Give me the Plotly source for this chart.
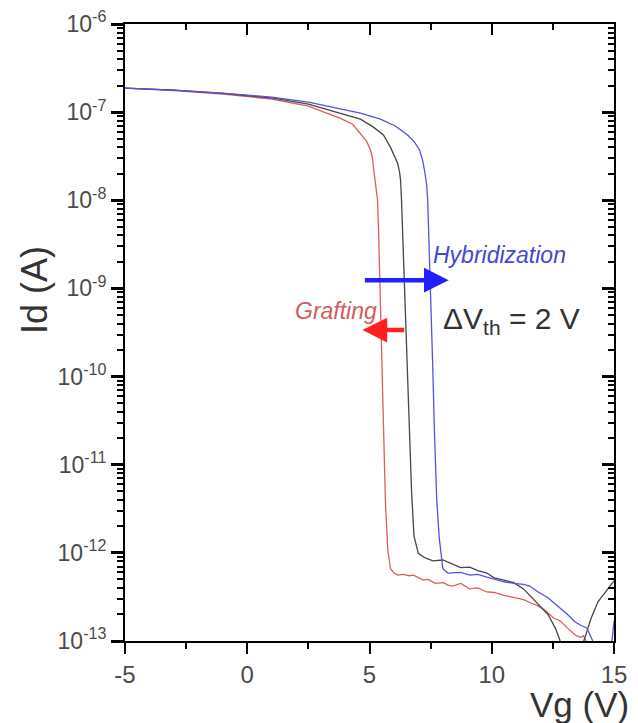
import plotly.graph_objects as go

# ---- data (Vg in V, Id in A) ----
vg_ref = [-5, -3, -1, 1, 2.5, 3.81, 4.63, 5.16, 5.57, 5.86, 6.02, 6.15, 6.23, 6.27, 6.31, 6.35,
          6.42, 6.52, 6.62, 6.72, 6.82,
          7.0, 7.3, 7.6, 8.0, 8.4, 8.73, 9.1, 9.43, 9.8, 10.1, 10.5, 10.9, 11.3, 11.7, 12.0,
          12.3, 12.6, 12.8, 12.9, 13.3, 13.7, 13.8, 14.06, 14.35, 14.75, 15.0]
id_ref = [1.87e-7, 1.78e-7, 1.63e-7, 1.45e-7, 1.23e-7, 9.77e-8, 8.32e-8, 6.76e-8, 5.50e-8,
          3.98e-8, 3.16e-8, 2.63e-8, 2.09e-8, 1.70e-8, 1.0e-8, 4.57e-9,
          1.5e-9, 2.6e-10, 3.2e-11, 5.0e-12, 1.55e-12,
          9.8e-13, 8.7e-13, 8.1e-13, 8.3e-13, 7.4e-13, 6.8e-13, 6.9e-13, 6.3e-13, 5.9e-13,
          5.2e-13, 4.9e-13, 4.6e-13, 3.9e-13, 3.0e-13, 2.45e-13,
          2.0e-13, 1.4e-13, 1.0e-13, 9e-14, 5e-14, 9e-14, 1.07e-13, 1.8e-13, 2.8e-13, 3.9e-13, 4.8e-13]

vg_graft = [-5, -3, -1, 1, 2.5, 3.81, 4.30, 4.63, 4.88, 5.04, 5.12, 5.16, 5.25, 5.33, 5.37,
            5.42, 5.48, 5.56, 5.65, 5.75,
            5.86, 6.0, 6.15, 6.4, 6.6, 6.8, 6.97, 7.2, 7.4, 7.7, 8.03, 8.2, 8.4, 8.73, 9.1, 9.43,
            9.8, 10.1, 10.5, 10.9, 11.3, 11.6, 11.9, 12.2, 12.55, 12.8, 13.1, 13.45, 13.65,
            13.75, 13.9, 14.1]
id_graft = [1.87e-7, 1.76e-7, 1.60e-7, 1.41e-7, 1.17e-7, 8.51e-8, 7.33e-8, 5.75e-8, 4.68e-8,
            3.72e-8, 3.02e-8, 2.37e-8, 1.41e-8, 1.0e-8, 4.57e-9,
            1.3e-9, 2.6e-10, 3.2e-11, 3.9e-12, 1.05e-12,
            6.6e-13, 5.9e-13, 5.6e-13, 5.7e-13, 5.5e-13, 5.6e-13, 5.3e-13, 4.9e-13, 5.0e-13,
            4.5e-13, 4.6e-13, 4.3e-13, 4.2e-13, 4.5e-13, 3.9e-13, 4.0e-13,
            3.6e-13, 3.55e-13, 3.3e-13, 3.1e-13, 2.95e-13, 2.7e-13, 2.5e-13, 2.2e-13, 1.8e-13,
            1.7e-13, 1.4e-13, 1.15e-13, 1.1e-13, 1.15e-13, 9.5e-14, 8e-14]

vg_hyb = [-5, -3, -1, 1, 2.5, 3.81, 4.63, 5.45, 6.07, 6.56, 6.84, 7.05, 7.17, 7.25, 7.34, 7.38,
          7.42, 7.5, 7.58, 7.66, 7.75, 7.85, 7.92, 8.0, 8.2, 8.5, 8.73, 9.1, 9.43, 9.8, 10.1,
          10.5, 10.9, 11.3, 11.55, 11.9, 12.3, 12.7, 13.1, 13.4, 13.65, 13.9, 14.1, 14.2,
          14.9, 15.0]
id_hyb = [1.87e-7, 1.78e-7, 1.64e-7, 1.48e-7, 1.30e-7, 1.08e-7, 9.77e-8, 8.32e-8, 6.92e-8,
          5.50e-8, 4.57e-8, 3.72e-8, 2.85e-8, 2.19e-8, 1.48e-8, 1.0e-8,
          4.57e-9, 1.0e-9, 1.5e-10, 2.2e-11, 4.0e-12, 1.5e-12, 9.5e-13, 6.6e-13, 5.9e-13,
          6.0e-13, 6.0e-13, 5.6e-13, 5.7e-13, 5.3e-13, 5.0e-13,
          4.7e-13, 4.5e-13, 4.4e-13, 4.2e-13, 3.6e-13, 3.1e-13, 2.5e-13, 2.0e-13, 1.65e-13,
          1.5e-13, 1.4e-13, 1.05e-13, 9e-14, 9e-14, 1.7e-13]

y_tick_exp = [-13, -12, -11, -10, -9, -8, -7, -6]
y_tick_text = ["10<sup>-%d</sup>" % (-e) for e in y_tick_exp]
x_tick_vals = [-5, 0, 5, 10, 15]
x_tick_text = ["-5", "0", "5", "10", "15"]
x_minor_vals = [-2.5, 2.5, 7.5, 12.5]

y_major_vals = [10.0 ** e for e in y_tick_exp]
y_minor_vals = [k * 10.0 ** e for e in y_tick_exp[:-1] for k in range(2, 10)]

FONT = "Liberation Sans, Arial, sans-serif"
GRAY = "#4a4a4a"

fig = go.Figure()
fig.add_trace(go.Scatter(x=vg_graft, y=id_graft, mode="lines",
                         line=dict(color="rgb(222,92,92)", width=1.3), showlegend=False))
fig.add_trace(go.Scatter(x=vg_ref, y=id_ref, mode="lines",
                         line=dict(color="rgb(70,70,70)", width=1.3), showlegend=False))
fig.add_trace(go.Scatter(x=vg_hyb, y=id_hyb, mode="lines",
                         line=dict(color="rgb(82,82,228)", width=1.3), showlegend=False))
# invisible traces to activate the extra tick axes (minor / mirror ticks)
for xa, ya in [("x2", "y"), ("x3", "y"), ("x4", "y"), ("x", "y2"), ("x", "y3"), ("x", "y4")]:
    fig.add_trace(go.Scatter(x=[0], y=[1e-9], xaxis=xa, yaxis=ya, mode="markers",
                             marker=dict(opacity=0), hoverinfo="skip", showlegend=False))

axis_line = dict(showline=True, linecolor="black", linewidth=2, showgrid=False, zeroline=False)
xr = dict(range=[-5, 15])
yr = dict(type="log", range=[-13, -6])

fig.update_layout(
    template="none",
    width=638, height=723,
    margin=dict(l=125, r=24, t=24, b=82),
    paper_bgcolor="white", plot_bgcolor="white", showlegend=False,
    font=dict(family=FONT, color=GRAY),
    xaxis=dict(tickmode="array", tickvals=x_tick_vals, ticktext=x_tick_text,
               ticks="outside", ticklen=11, tickwidth=2, tickcolor="black",
               tickfont=dict(size=24, color=GRAY, family=FONT), **xr, **axis_line),
    xaxis3=dict(overlaying="x", anchor="y", side="bottom", tickmode="array",
                tickvals=x_minor_vals, ticks="outside", ticklen=6, tickwidth=2,
                tickcolor="black", showticklabels=False, **xr, **axis_line),
    xaxis2=dict(overlaying="x", anchor="y", side="top", tickmode="array",
                tickvals=x_tick_vals, ticks="inside", ticklen=11, tickwidth=2,
                tickcolor="black", showticklabels=False, **xr, **axis_line),
    xaxis4=dict(overlaying="x", anchor="y", side="top", tickmode="array",
                tickvals=x_minor_vals, ticks="inside", ticklen=6, tickwidth=2,
                tickcolor="black", showticklabels=False, **xr, **axis_line),
    yaxis=dict(tickmode="array", tickvals=y_major_vals, ticktext=y_tick_text,
               ticks="outside", ticklen=12, tickwidth=2.5, tickcolor="black",
               tickfont=dict(size=23, color=GRAY, family=FONT), **yr, **axis_line),
    yaxis3=dict(overlaying="y", anchor="x", side="left", tickmode="array",
                tickvals=y_minor_vals, ticks="outside", ticklen=6, tickwidth=1.5,
                tickcolor="black", showticklabels=False, **yr, **axis_line),
    yaxis2=dict(overlaying="y", anchor="x", side="right", tickmode="array",
                tickvals=y_major_vals, ticks="inside", ticklen=12, tickwidth=2.5,
                tickcolor="black", showticklabels=False, **yr, **axis_line),
    yaxis4=dict(overlaying="y", anchor="x", side="right", tickmode="array",
                tickvals=y_minor_vals, ticks="inside", ticklen=6, tickwidth=1.5,
                tickcolor="black", showticklabels=False, **yr, **axis_line),
)

# axis titles
fig.add_annotation(text="Id (A)", xref="paper", yref="paper", x=-0.184, y=0.569,
                   textangle=-90, showarrow=False, font=dict(size=36, color="#333333", family=FONT),
                   xanchor="center", yanchor="middle")
fig.add_annotation(text="Vg (V)", xref="paper", yref="paper", x=1.035, y=-0.103,
                   showarrow=False, font=dict(size=35, color="#333333", family=FONT),
                   xanchor="right", yanchor="middle")

# arrows
fig.add_annotation(x=8.24, y=-8.906, ax=4.75, ay=-8.906, xref="x", yref="y", axref="x", ayref="y",
                   text="", showarrow=True, arrowhead=2, arrowsize=1.1, arrowwidth=4.5,
                   arrowcolor="#1f1fff", standoff=0)
fig.add_annotation(x=4.71, y=-9.473, ax=6.48, ay=-9.473, xref="x", yref="y", axref="x", ayref="y",
                   text="", showarrow=True, arrowhead=2, arrowsize=1.1, arrowwidth=4.5,
                   arrowcolor="#ff1f1f", standoff=0)

# labels
fig.add_annotation(text="<i>Hybridization</i>", x=7.5, y=-8.62, xref="x", yref="y",
                   xanchor="left", yanchor="middle", showarrow=False,
                   font=dict(size=23, color="#4646d6", family=FONT))
fig.add_annotation(text="<i>Grafting</i>", x=5.37, y=-9.26, xref="x", yref="y",
                   xanchor="right", yanchor="middle", showarrow=False,
                   font=dict(size=23, color="#d65a5a", family=FONT))
fig.add_annotation(text="ΔV<sub>th</sub> = 2 V", x=7.91, y=-9.36, xref="x", yref="y",
                   xanchor="left", yanchor="middle", showarrow=False,
                   font=dict(size=30, color="#333333", family=FONT))

fig.write_html("out.html")
